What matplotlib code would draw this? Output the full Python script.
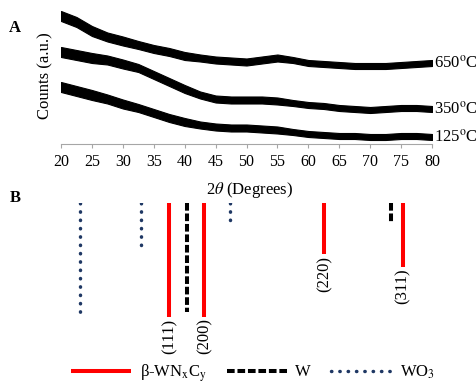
"""XRD patterns of annealed films (A) and reference peak positions (B)."""

import matplotlib

matplotlib.use("Agg")
import matplotlib.pyplot as plt
from matplotlib.lines import Line2D

plt.rcParams.update({
    "font.family": "Liberation Serif",
    "mathtext.fontset": "stix",
    "font.size": 12,
})

# --- panel A: diffractograms (centre of the noisy trace + noise half-width) --
two_theta = [20, 22.5, 25, 27.5, 30, 32.5, 35, 37.5, 40, 42.5, 45, 47.5, 50,
             52.5, 55, 57.5, 60, 62.5, 65, 67.5, 70, 72.5, 75, 77.5, 80]
counts_650 = [128, 122, 113, 107, 103, 99, 95, 92, 88, 86, 84, 83, 82,
              84, 86, 84, 81, 80, 79, 78, 78, 78, 79, 80, 81]
counts_350 = [92, 89, 86, 84, 80, 76, 69, 62, 55, 49, 45, 44, 44,
              44, 43, 41, 39, 38, 36, 35, 34, 35, 36, 36, 35]
counts_125 = [57, 53, 49, 45, 40, 36, 31, 26, 22, 19, 17, 16, 16,
              15, 14, 12, 10, 9, 8, 8, 7, 7, 8, 8, 7]
noise = [5, 5, 5, 4.5, 4.5, 4, 4, 4, 4, 3.5, 3.5, 3.5, 3.5,
         3.5, 3.5, 3, 3, 3, 3, 3, 3, 3, 3, 3, 3]
temps = ["650", "350", "125"]

# --- panel B: reference lines (relative intensity) --------------------------
wnc_pos = [37.5, 43.2, 62.6, 75.3]
wnc_int = [100, 100, 45, 56]
wnc_hkl = ["(111)", "(200)", "(220)", "(311)"]
w_pos = [40.3, 73.4]
w_int = [96, 17]
wo3_pos = [23.1, 33.0, 47.4]
wo3_int = [96, 38, 16]

RED, BLACK, NAVY = "#FF0000", "black", "#1F3864"
W, H = 477, 385

fig = plt.figure(figsize=(W / 100, H / 100), dpi=100)

# top panel
ax = fig.add_axes([61 / W, (H - 144) / H, 371 / W, 136 / H])
for temp, c in zip(temps, [counts_650, counts_350, counts_125]):
    lo = [v - n for v, n in zip(c, noise)]
    hi = [v + n for v, n in zip(c, noise)]
    ax.fill_between(two_theta, lo, hi, color="black", lw=0.8)
    ax.text(two_theta[-1] + 0.3, c[-1], temp + r"$^{\mathrm{o}}$C",
            ha="left", va="center", fontsize=12)
ax.set_xlim(20, 80)
ax.set_ylim(0, 136)
ax.set_xticks(range(20, 81, 5))
ax.set_yticks([])
for s in ("top", "right", "left"):
    ax.spines[s].set_visible(False)
ax.spines["bottom"].set_color("#A6A6A6")
ax.tick_params(axis="x", direction="out", length=3, color="#A6A6A6",
               labelsize=11.5, pad=4)

fig.text(45 / W, 1 - 76 / H, "Counts (a.u.)", rotation=90,
         ha="center", va="center", fontsize=12)
fig.text(250 / W, 1 - 190 / H, r"2$\theta$ (Degrees)",
         ha="center", va="center", fontsize=12)
fig.text(15 / W, 1 - 28 / H, "A", ha="center", va="center",
         fontsize=12, fontweight="bold")
fig.text(15 / W, 1 - 198 / H, "B", ha="center", va="center",
         fontsize=12, fontweight="bold")

# bottom panel
bx = fig.add_axes([61 / W, (H - 317) / H, 371 / W, 114 / H])
bx.set_xlim(20, 80)
bx.set_ylim(100, 0)
bx.axis("off")

red_kw = dict(color=RED, lw=2.9, solid_capstyle="butt")
w_kw = dict(color=BLACK, lw=2.9, ls=(0, (1.9, 0.7)), dash_capstyle="butt")
wo3_kw = dict(color=NAVY, lw=2.5, ls=(0, (0.1, 2.3)), dash_capstyle="round")

for x, i in zip(wo3_pos, wo3_int):
    bx.plot([x, x], [0, i], **wo3_kw)
for x, i in zip(w_pos, w_int):
    bx.plot([x, x], [0, i], **w_kw)
for x, i, hkl in zip(wnc_pos, wnc_int, wnc_hkl):
    bx.plot([x, x], [0, i], **red_kw)
    bx.annotate(hkl, (x, i), xytext=(0, -1), textcoords="offset points",
                rotation=90, ha="center", va="top", fontsize=12,
                annotation_clip=False)

handles = [Line2D([], [], **red_kw), Line2D([], [], **w_kw),
           Line2D([], [], **wo3_kw)]
labels = [r"β-WN$_{\mathrm{x}}$C$_{\mathrm{y}}$", "W", r"WO$_3$"]
fig.legend(handles, labels, ncol=3, frameon=False, loc="center",
           bbox_to_anchor=(253 / W, 12 / H), fontsize=12,
           handlelength=3.6, handletextpad=0.5, columnspacing=1.2,
           borderpad=0.1)

fig.savefig("out.png", dpi=100)
